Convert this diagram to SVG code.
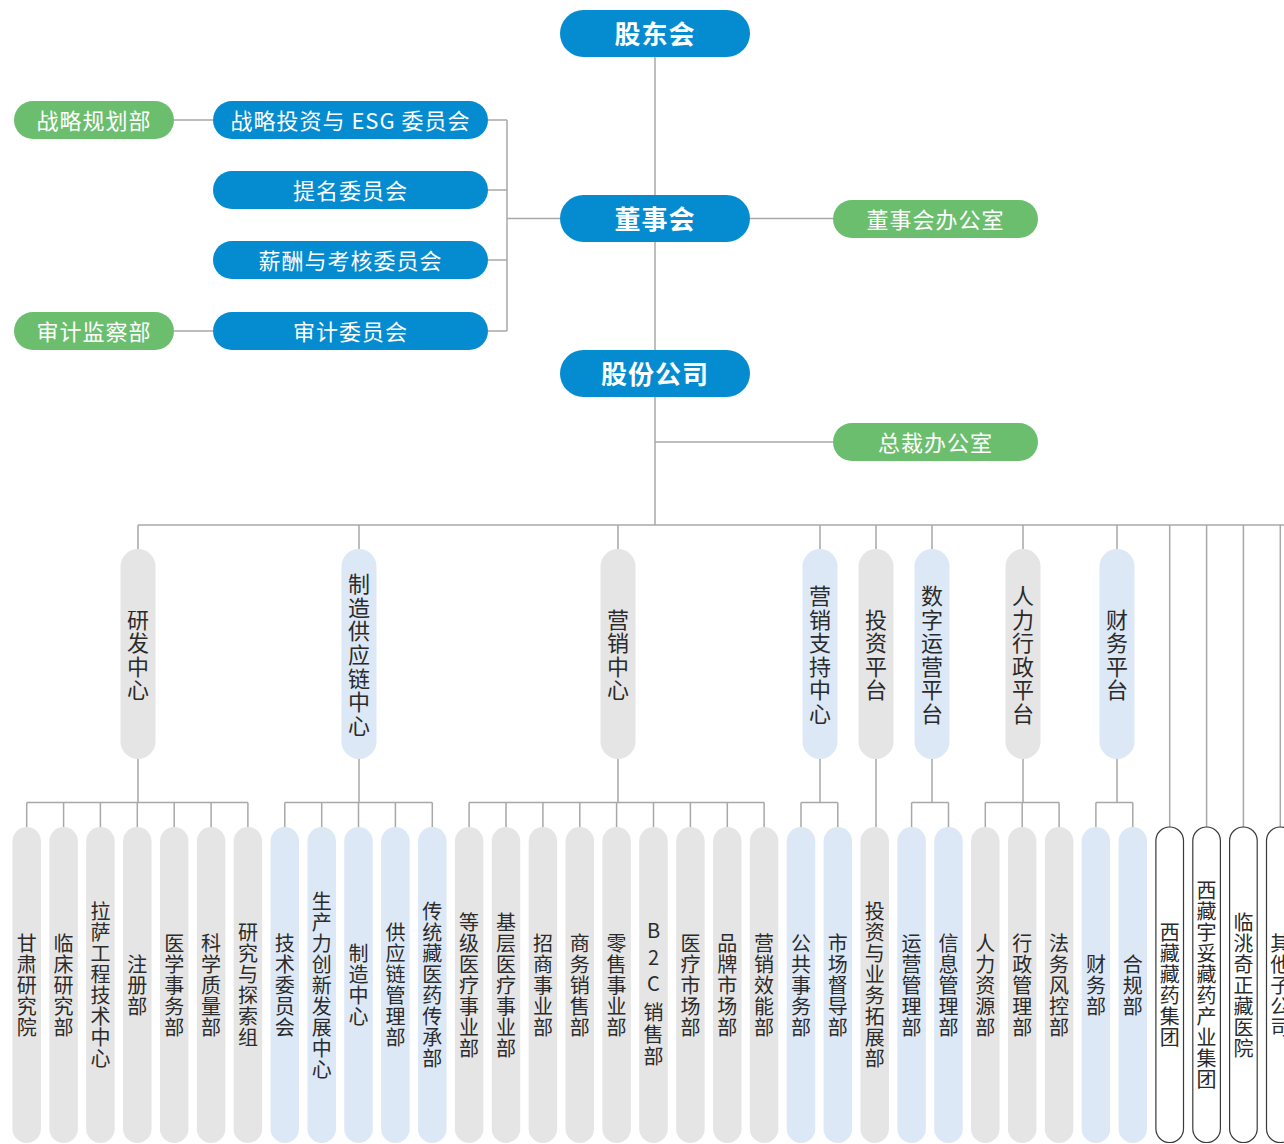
<svg xmlns="http://www.w3.org/2000/svg" width="1284" height="1144" viewBox="0 0 1284 1144">
<style>
text{font-family:"Noto Sans CJK SC","Noto Sans",sans-serif;text-anchor:middle;dominant-baseline:central;transform:translateY(-1px)}
.blue{fill:#058cd0}
.green{fill:#6cbe6f}
.grey{fill:#e5e5e5}
.lb{fill:#dce8f6}
.wh{fill:#ffffff;stroke:#3a3a3a;stroke-width:1.2}
.tb{fill:#fff;font-size:26px;font-weight:bold;letter-spacing:1px}
.tw{fill:#fff;font-size:22px;letter-spacing:1px}
.t2{fill:#2b2b2b;font-size:22px}
.t3{fill:#2b2b2b;font-size:20px}
.ln{fill:none;stroke:#a8a8a8;stroke-width:1.5}
</style>
<rect width="1284" height="1144" fill="#fff"/>
<g id="connectors" class="ln">
<path d="M655 57V525"/>
<path d="M750 218.5H833"/>
<path d="M488 120H507M488 190H507M488 260H507M488 331H507M507 120V331M507 218.5H560"/>
<path d="M174 120H213M174 331H213"/>
<path d="M655 442H833"/>
<path d="M138 525H1284"/>
<path d="M138 525V549M359 525V549M618 525V549M820 525V549M876 525V549M932 525V549M1023 525V549M1117 525V549"/>
<path d="M1169.7 525V827M1206.6 525V827M1243.4 525V827M1280.3 525V827"/>
<path d="M138 759V802.5M359 759V802.5M618 759V802.5M820 759V802.5M876 759V827M932 759V802.5M1023 759V802.5M1117 759V802.5"/>
<path d="M26.7 802.5H247.9M284.8 802.5H432.3M469.1 802.5H764.1M801 802.5H837.8M911.6 802.5H948.5M985.3 802.5H1059.1M1095.9 802.5H1132.8"/>
<path d="M26.7 802.5V827M63.6 802.5V827M100.4 802.5V827M137.3 802.5V827M174.2 802.5V827M211.1 802.5V827M247.9 802.5V827M284.8 802.5V827M321.7 802.5V827M358.5 802.5V827M395.4 802.5V827M432.3 802.5V827M469.1 802.5V827M506 802.5V827M542.9 802.5V827M579.8 802.5V827M616.6 802.5V827M653.5 802.5V827M690.4 802.5V827M727.3 802.5V827M764.1 802.5V827M801 802.5V827M837.8 802.5V827M911.6 802.5V827M948.5 802.5V827M985.3 802.5V827M1022.2 802.5V827M1059.1 802.5V827M1095.9 802.5V827M1132.8 802.5V827"/>
</g>
<g id="gudonghui"><rect class="blue" x="560" y="10" width="190" height="47" rx="23.5"/><text class="tb" x="655" y="33.5">股东会</text></g>
<g id="dongshihui"><rect class="blue" x="560" y="195" width="190" height="47" rx="23.5"/><text class="tb" x="655" y="218.5">董事会</text></g>
<g id="gufengongsi"><rect class="blue" x="560" y="350" width="190" height="47" rx="23.5"/><text class="tb" x="655" y="373.5">股份公司</text></g>
<g id="dongshihuibangongshi"><rect class="green" x="833" y="200" width="205" height="38" rx="19"/><text class="tw" x="935.5" y="219">董事会办公室</text></g>
<g id="zongcaibangongshi"><rect class="green" x="833" y="423" width="205" height="38" rx="19"/><text class="tw" x="935.5" y="442">总裁办公室</text></g>
<g id="zhanlvetouzi"><rect class="blue" x="213" y="101" width="275" height="38" rx="19"/><text class="tw" x="350.5" y="120">战略投资与 ESG 委员会</text></g>
<g id="timing"><rect class="blue" x="213" y="171" width="275" height="38" rx="19"/><text class="tw" x="350.5" y="190">提名委员会</text></g>
<g id="xinchou"><rect class="blue" x="213" y="241" width="275" height="38" rx="19"/><text class="tw" x="350.5" y="260">薪酬与考核委员会</text></g>
<g id="shenji"><rect class="blue" x="213" y="312" width="275" height="38" rx="19"/><text class="tw" x="350.5" y="331">审计委员会</text></g>
<g id="zhanlueguihua"><rect class="green" x="14" y="101" width="160" height="38" rx="19"/><text class="tw" x="94" y="120">战略规划部</text></g>
<g id="shenjijiancha"><rect class="green" x="14" y="312" width="160" height="38" rx="19"/><text class="tw" x="94" y="331">审计监察部</text></g>

<g id="yanfa"><rect class="grey" x="120.5" y="549" width="35" height="210" rx="17.5"/><text class="t2" x="138 138 138 138" y="618.6 642.2 665.8 689.4">研发中心</text></g>
<g id="zhizao"><rect class="lb" x="341.5" y="549" width="35" height="210" rx="17.5"/><text class="t2" x="359 359 359 359 359 359 359" y="583.2 606.8 630.4 654 677.6 701.2 724.8">制造供应链中心</text></g>
<g id="yingxiao"><rect class="grey" x="600.5" y="549" width="35" height="210" rx="17.5"/><text class="t2" x="618 618 618 618" y="618.6 642.2 665.8 689.4">营销中心</text></g>
<g id="yingxiaozhichi"><rect class="lb" x="802.5" y="549" width="35" height="210" rx="17.5"/><text class="t2" x="820 820 820 820 820 820" y="595 618.6 642.2 665.8 689.4 713">营销支持中心</text></g>
<g id="touzi"><rect class="grey" x="858.5" y="549" width="35" height="210" rx="17.5"/><text class="t2" x="876 876 876 876" y="618.6 642.2 665.8 689.4">投资平台</text></g>
<g id="shuzi"><rect class="lb" x="914.5" y="549" width="35" height="210" rx="17.5"/><text class="t2" x="932 932 932 932 932 932" y="595 618.6 642.2 665.8 689.4 713">数字运营平台</text></g>
<g id="renli"><rect class="grey" x="1005.5" y="549" width="35" height="210" rx="17.5"/><text class="t2" x="1023 1023 1023 1023 1023 1023" y="595 618.6 642.2 665.8 689.4 713">人力行政平台</text></g>
<g id="caiwu"><rect class="lb" x="1099.5" y="549" width="35" height="210" rx="17.5"/><text class="t2" x="1117 1117 1117 1117" y="618.6 642.2 665.8 689.4">财务平台</text></g>

<g id="c0"><rect class="grey" x="12.45" y="827" width="28.5" height="316" rx="14.25"/><text class="t3" x="26.7 26.7 26.7 26.7 26.7" y="943 964 985 1006 1027">甘肃研究院</text></g>
<g id="c1"><rect class="grey" x="49.35" y="827" width="28.5" height="316" rx="14.25"/><text class="t3" x="63.6 63.6 63.6 63.6 63.6" y="943 964 985 1006 1027">临床研究部</text></g>
<g id="c2"><rect class="grey" x="86.15" y="827" width="28.5" height="316" rx="14.25"/><text class="t3" x="100.4 100.4 100.4 100.4 100.4 100.4 100.4 100.4" y="911.5 932.5 953.5 974.5 995.5 1016.5 1037.5 1058.5">拉萨工程技术中心</text></g>
<g id="c3"><rect class="grey" x="123.05" y="827" width="28.5" height="316" rx="14.25"/><text class="t3" x="137.3 137.3 137.3" y="964 985 1006">注册部</text></g>
<g id="c4"><rect class="grey" x="159.95" y="827" width="28.5" height="316" rx="14.25"/><text class="t3" x="174.2 174.2 174.2 174.2 174.2" y="943 964 985 1006 1027">医学事务部</text></g>
<g id="c5"><rect class="grey" x="196.85" y="827" width="28.5" height="316" rx="14.25"/><text class="t3" x="211.1 211.1 211.1 211.1 211.1" y="943 964 985 1006 1027">科学质量部</text></g>
<g id="c6"><rect class="grey" x="233.65" y="827" width="28.5" height="316" rx="14.25"/><text class="t3" x="247.9 247.9 247.9 247.9 247.9 247.9" y="932.5 953.5 974.5 995.5 1016.5 1037.5">研究与探索组</text></g>
<g id="c7"><rect class="lb" x="270.55" y="827" width="28.5" height="316" rx="14.25"/><text class="t3" x="284.8 284.8 284.8 284.8 284.8" y="943 964 985 1006 1027">技术委员会</text></g>
<g id="c8"><rect class="lb" x="307.45" y="827" width="28.5" height="316" rx="14.25"/><text class="t3" x="321.7 321.7 321.7 321.7 321.7 321.7 321.7 321.7 321.7" y="901 922 943 964 985 1006 1027 1048 1069">生产力创新发展中心</text></g>
<g id="c9"><rect class="lb" x="344.25" y="827" width="28.5" height="316" rx="14.25"/><text class="t3" x="358.5 358.5 358.5 358.5" y="953.5 974.5 995.5 1016.5">制造中心</text></g>
<g id="c10"><rect class="lb" x="381.15" y="827" width="28.5" height="316" rx="14.25"/><text class="t3" x="395.4 395.4 395.4 395.4 395.4 395.4" y="932.5 953.5 974.5 995.5 1016.5 1037.5">供应链管理部</text></g>
<g id="c11"><rect class="lb" x="418.05" y="827" width="28.5" height="316" rx="14.25"/><text class="t3" x="432.3 432.3 432.3 432.3 432.3 432.3 432.3 432.3" y="911.5 932.5 953.5 974.5 995.5 1016.5 1037.5 1058.5">传统藏医药传承部</text></g>
<g id="c12"><rect class="grey" x="454.85" y="827" width="28.5" height="316" rx="14.25"/><text class="t3" x="469.1 469.1 469.1 469.1 469.1 469.1 469.1" y="922 943 964 985 1006 1027 1048">等级医疗事业部</text></g>
<g id="c13"><rect class="grey" x="491.75" y="827" width="28.5" height="316" rx="14.25"/><text class="t3" x="506 506 506 506 506 506 506" y="922 943 964 985 1006 1027 1048">基层医疗事业部</text></g>
<g id="c14"><rect class="grey" x="528.65" y="827" width="28.5" height="316" rx="14.25"/><text class="t3" x="542.9 542.9 542.9 542.9 542.9" y="943 964 985 1006 1027">招商事业部</text></g>
<g id="c15"><rect class="grey" x="565.55" y="827" width="28.5" height="316" rx="14.25"/><text class="t3" x="579.8 579.8 579.8 579.8 579.8" y="943 964 985 1006 1027">商务销售部</text></g>
<g id="c16"><rect class="grey" x="602.35" y="827" width="28.5" height="316" rx="14.25"/><text class="t3" x="616.6 616.6 616.6 616.6 616.6" y="943 964 985 1006 1027">零售事业部</text></g>
<g id="c17"><rect class="grey" x="639.25" y="827" width="28.5" height="316" rx="14.25"/><text class="t3" x="653.5 653.5 653.5 653.5 653.5 653.5 653.5" y="930 957 983.5 998 1012.5 1034 1056">B2C 销售部</text></g>
<g id="c18"><rect class="grey" x="676.15" y="827" width="28.5" height="316" rx="14.25"/><text class="t3" x="690.4 690.4 690.4 690.4 690.4" y="943 964 985 1006 1027">医疗市场部</text></g>
<g id="c19"><rect class="grey" x="713.05" y="827" width="28.5" height="316" rx="14.25"/><text class="t3" x="727.3 727.3 727.3 727.3 727.3" y="943 964 985 1006 1027">品牌市场部</text></g>
<g id="c20"><rect class="grey" x="749.85" y="827" width="28.5" height="316" rx="14.25"/><text class="t3" x="764.1 764.1 764.1 764.1 764.1" y="943 964 985 1006 1027">营销效能部</text></g>
<g id="c21"><rect class="lb" x="786.75" y="827" width="28.5" height="316" rx="14.25"/><text class="t3" x="801 801 801 801 801" y="943 964 985 1006 1027">公共事务部</text></g>
<g id="c22"><rect class="lb" x="823.55" y="827" width="28.5" height="316" rx="14.25"/><text class="t3" x="837.8 837.8 837.8 837.8 837.8" y="943 964 985 1006 1027">市场督导部</text></g>
<g id="c23"><rect class="grey" x="860.45" y="827" width="28.5" height="316" rx="14.25"/><text class="t3" x="874.7 874.7 874.7 874.7 874.7 874.7 874.7 874.7" y="911.5 932.5 953.5 974.5 995.5 1016.5 1037.5 1058.5">投资与业务拓展部</text></g>
<g id="c24"><rect class="lb" x="897.35" y="827" width="28.5" height="316" rx="14.25"/><text class="t3" x="911.6 911.6 911.6 911.6 911.6" y="943 964 985 1006 1027">运营管理部</text></g>
<g id="c25"><rect class="lb" x="934.25" y="827" width="28.5" height="316" rx="14.25"/><text class="t3" x="948.5 948.5 948.5 948.5 948.5" y="943 964 985 1006 1027">信息管理部</text></g>
<g id="c26"><rect class="grey" x="971.05" y="827" width="28.5" height="316" rx="14.25"/><text class="t3" x="985.3 985.3 985.3 985.3 985.3" y="943 964 985 1006 1027">人力资源部</text></g>
<g id="c27"><rect class="grey" x="1007.95" y="827" width="28.5" height="316" rx="14.25"/><text class="t3" x="1022.2 1022.2 1022.2 1022.2 1022.2" y="943 964 985 1006 1027">行政管理部</text></g>
<g id="c28"><rect class="grey" x="1044.85" y="827" width="28.5" height="316" rx="14.25"/><text class="t3" x="1059.1 1059.1 1059.1 1059.1 1059.1" y="943 964 985 1006 1027">法务风控部</text></g>
<g id="c29"><rect class="lb" x="1081.65" y="827" width="28.5" height="316" rx="14.25"/><text class="t3" x="1095.9 1095.9 1095.9" y="964 985 1006">财务部</text></g>
<g id="c30"><rect class="lb" x="1118.55" y="827" width="28.5" height="316" rx="14.25"/><text class="t3" x="1132.8 1132.8 1132.8" y="964 985 1006">合规部</text></g>
<g id="c31"><rect class="wh" x="1155.9" y="827" width="27.6" height="315.5" rx="13.8"/><text class="t3" x="1169.7 1169.7 1169.7 1169.7 1169.7 1169.7" y="932.5 953.5 974.5 995.5 1016.5 1037.5">西藏藏药集团</text></g>
<g id="c32"><rect class="wh" x="1192.8" y="827" width="27.6" height="315.5" rx="13.8"/><text class="t3" x="1206.6 1206.6 1206.6 1206.6 1206.6 1206.6 1206.6 1206.6 1206.6 1206.6" y="890.5 911.5 932.5 953.5 974.5 995.5 1016.5 1037.5 1058.5 1079.5">西藏宇妥藏药产业集团</text></g>
<g id="c33"><rect class="wh" x="1229.6" y="827" width="27.6" height="315.5" rx="13.8"/><text class="t3" x="1243.4 1243.4 1243.4 1243.4 1243.4 1243.4 1243.4" y="922 943 964 985 1006 1027 1048">临洮奇正藏医院</text></g>
<g id="c34"><rect class="wh" x="1266.5" y="827" width="27.6" height="315.5" rx="13.8"/><text class="t3" x="1280.3 1280.3 1280.3 1280.3 1280.3" y="943 964 985 1006 1027">其他子公司</text></g>
</svg>
